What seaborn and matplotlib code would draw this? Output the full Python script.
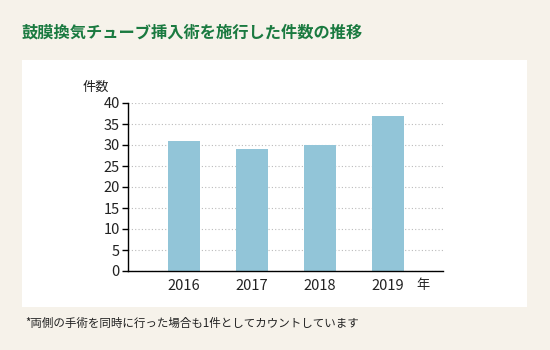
import matplotlib
matplotlib.use("Agg")
import matplotlib.pyplot as plt
from matplotlib.patches import Rectangle
import seaborn as sns
import pandas as pd

years = ["2016", "2017", "2018", "2019"]
counts = [31, 29, 30, 37]
yticks = [0, 5, 10, 15, 20, 25, 30, 35, 40]

sns.set_theme(style="white")
plt.rcParams['font.family'] = ['Noto Sans CJK JP', 'DejaVu Sans']

W, H = 550, 350
fig = plt.figure(figsize=(W / 100, H / 100), dpi=100)
fig.patch.set_facecolor("#f6f2ea")

# white panel
fig.patches.append(Rectangle((22 / W, 1 - 307 / H), (527 - 22) / W, (307 - 60) / H,
                             transform=fig.transFigure, facecolor="white",
                             edgecolor="none", zorder=-5))

ax = fig.add_axes([128 / W, 1 - 271 / H, (443 - 128) / W, (271 - 103) / H])
ax.set_zorder(2)
ax.set_facecolor("white")
df = pd.DataFrame({"year": years, "count": counts})
sns.barplot(data=df, x="year", y="count", color="#92c5d8", saturation=1,
            width=0.47, ax=ax, zorder=3, linewidth=0, edgecolor="none")
ax.set_xlim(-0.82, 3.81)
ax.set_ylim(0, 40)
ax.set_yticks(yticks)
ax.set_yticklabels([str(v) for v in yticks], fontsize=10.5, color="#222222")
ax.set_xticklabels(years, fontsize=10.5, color="#222222")
ax.set_xlabel("")
ax.set_ylabel("")
ax.set_axisbelow(True)
ax.yaxis.grid(True, linestyle=(0, (1, 2)), color="#bbbbbb", linewidth=0.8)
ax.xaxis.grid(False)
for s in ["top", "right"]:
    ax.spines[s].set_visible(False)
for s in ["left", "bottom"]:
    ax.spines[s].set_color("black")
    ax.spines[s].set_linewidth(1.0)
    ax.spines[s].set_zorder(5)
ax.tick_params(axis="y", which="major", left=True, length=4, width=1, color="black", pad=2)
ax.tick_params(axis="x", bottom=False, pad=0)

fig.text(22 / W, 1 - 33 / H, "鼓膜換気チューブ挿入術を施行した件数の推移", fontsize=11.7,
         fontweight="bold", color="#1a7a40", va="center", ha="left")
fig.text(83 / W, 1 - 87 / H, "件数", fontsize=9.5, color="#222222", va="center", ha="left")
fig.text(416 / W, 1 - 286 / H, "年", fontsize=9.5, color="#222222", va="center", ha="left")
fig.text(25 / W, 1 - 323 / H, "*両側の手術を同時に行った場合も1件としてカウントしています",
         fontsize=8.3, color="#222222", va="center", ha="left")

fig.savefig("out.png", dpi=100, facecolor=fig.get_facecolor())
